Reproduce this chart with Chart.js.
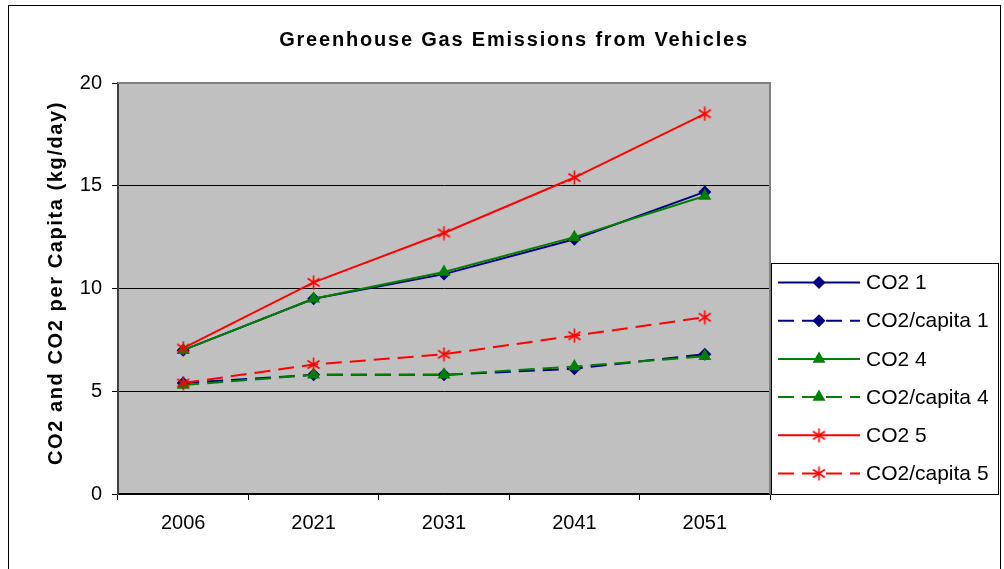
<!DOCTYPE html>
<html>
<head>
<meta charset="utf-8">
<script src="https://cdn.jsdelivr.net/npm/chart.js@4"></script>
<style>
  html, body { margin: 0; padding: 0; background: #fff; }
  #wrap { position: relative; width: 1004px; height: 569px; }
</style>
</head>
<body>
<div id="wrap"><canvas id="chart" width="1004" height="569"></canvas></div>
<script>
// Data
const years = ['2006', '2021', '2031', '2041', '2051'];
const co2_1 = [7.0, 9.5, 10.7, 12.4, 14.7];
const co2Capita_1 = [5.4, 5.8, 5.8, 6.1, 6.8];
const co2_4 = [7.0, 9.5, 10.8, 12.5, 14.5];
const co2Capita_4 = [5.3, 5.8, 5.8, 6.2, 6.7];
const co2_5 = [7.1, 10.3, 12.7, 15.4, 18.5];
const co2Capita_5 = [5.4, 6.3, 6.8, 7.7, 8.6];
const yTicks = [0, 5, 10, 15, 20];

const FONT = "'Liberation Sans', Arial, sans-serif";
const NAVY = '#000080';
const GREEN = '#008000';
const RED = '#FF0000';
const DASH = [16, 8];

// Asterisk marker (vertical line + X), like the Excel star marker
function makeStar(color) {
    const c = document.createElement('canvas');
    c.width = 15;
    c.height = 15;
    const g = c.getContext('2d');
    g.strokeStyle = color;
    g.lineWidth = 1.6;
    g.beginPath();
    g.moveTo(7.5, 0.5); g.lineTo(7.5, 14.5);
    g.moveTo(1.5, 3.5); g.lineTo(13.5, 11.5);
    g.moveTo(1.5, 11.5); g.lineTo(13.5, 3.5);
    g.stroke();
    return c;
}
const starImg = makeStar(RED);

function series(label, data, color, style, dashed, order) {
    return {
        label: label,
        data: data,
        borderColor: color,
        backgroundColor: color,
        borderWidth: 2,
        borderDash: dashed ? DASH : [],
        pointStyle: style === 'star' ? starImg : style,
        pointRadius: style === 'triangle' ? 7.5 : 6.5,
        pointBorderWidth: 0,
        pointBackgroundColor: color,
        pointBorderColor: color,
        tension: 0,
        fill: false,
        order: order,
        _marker: style,
        _dashed: dashed
    };
}

const datasets = [
    series('CO2 1', co2_1, NAVY, 'rectRot', false, 6),
    series('CO2/capita 1', co2Capita_1, NAVY, 'rectRot', true, 5),
    series('CO2 4', co2_4, GREEN, 'triangle', false, 4),
    series('CO2/capita 4', co2Capita_4, GREEN, 'triangle', true, 3),
    series('CO2 5', co2_5, RED, 'star', false, 2),
    series('CO2/capita 5', co2Capita_5, RED, 'star', true, 1)
];

// Grey plot area, outer frame, title and axis title
const framePlugin = {
    id: 'frame',
    beforeDraw(chart) {
        const { ctx, chartArea: a } = chart;
        ctx.save();
        ctx.fillStyle = '#C0C0C0';
        ctx.fillRect(a.left, a.top, a.right - a.left, a.bottom - a.top);
        // outer chart border
        ctx.strokeStyle = '#000';
        ctx.lineWidth = 1;
        ctx.strokeRect(8.5, 5.5, 992, 600);
        ctx.restore();
    },
    afterDraw(chart) {
        const { ctx, chartArea: a } = chart;
        ctx.save();
        // top and right border of plot area
        ctx.strokeStyle = '#808080';
        ctx.lineWidth = 2;
        ctx.beginPath();
        ctx.moveTo(a.left, a.top);
        ctx.lineTo(a.right, a.top);
        ctx.lineTo(a.right, a.bottom);
        ctx.stroke();
        // title
        ctx.fillStyle = '#000';
        ctx.font = 'bold 20px ' + FONT;
        ctx.letterSpacing = '1.8px';
        ctx.textAlign = 'center';
        ctx.textBaseline = 'middle';
        ctx.fillText('Greenhouse Gas Emissions from Vehicles', 514, 40);
        // y axis title
        ctx.translate(56, 283);
        ctx.rotate(-Math.PI / 2);
        ctx.letterSpacing = '1.6px';
        ctx.fillText('CO2 and CO2 per Capita (kg/day)', 0, 0);
        ctx.restore();
    }
};

// Legend box on the right, drawn from the dataset styles
const legendPlugin = {
    id: 'sideLegend',
    afterDraw(chart) {
        const ctx = chart.ctx;
        const box = { x: 771.5, y: 263.5, w: 227, h: 231 };
        ctx.save();
        ctx.fillStyle = '#fff';
        ctx.fillRect(box.x, box.y, box.w, box.h);
        ctx.strokeStyle = '#000';
        ctx.lineWidth = 1;
        ctx.strokeRect(box.x, box.y, box.w, box.h);

        chart.data.datasets.forEach((ds, i) => {
            const y = 282.5 + i * 38.2;
            ctx.strokeStyle = ds.borderColor;
            ctx.lineWidth = 2;
            ctx.setLineDash(ds._dashed ? DASH : []);
            ctx.beginPath();
            ctx.moveTo(778, y);
            ctx.lineTo(860, y);
            ctx.stroke();
            ctx.setLineDash([]);
            drawMarker(ctx, ds._marker, ds.borderColor, 819, y);
            ctx.fillStyle = '#000';
            ctx.font = '21px ' + FONT;
            ctx.textAlign = 'left';
            ctx.textBaseline = 'middle';
            ctx.fillText(ds.label, 866, y + 1);
        });
        ctx.restore();
    }
};

function drawMarker(ctx, style, color, x, y) {
    ctx.fillStyle = color;
    if (style === 'rectRot') {
        const r = 6.5;
        ctx.beginPath();
        ctx.moveTo(x, y - r);
        ctx.lineTo(x + r, y);
        ctx.lineTo(x, y + r);
        ctx.lineTo(x - r, y);
        ctx.closePath();
        ctx.fill();
    } else if (style === 'triangle') {
        const r = 7.5;
        ctx.beginPath();
        ctx.moveTo(x, y - r);
        ctx.lineTo(x + r * 0.866, y + r * 0.5);
        ctx.lineTo(x - r * 0.866, y + r * 0.5);
        ctx.closePath();
        ctx.fill();
    } else {
        ctx.drawImage(starImg, x - 7.5, y - 7.5);
    }
}

new Chart(document.getElementById('chart'), {
    type: 'line',
    data: { labels: years, datasets: datasets },
    options: {
        responsive: false,
        animation: false,
        layout: { padding: { left: 8, top: 83, right: 234, bottom: 0 } },
        plugins: {
            legend: { display: false },
            title: { display: false },
            tooltip: { enabled: false }
        },
        scales: {
            x: {
                offset: true,
                grid: {
                    offset: true,
                    drawOnChartArea: false,
                    tickLength: 6,
                    color: '#000',
                    tickColor: '#000'
                },
                border: { color: '#000', width: 1.5 },
                ticks: {
                    color: '#000',
                    padding: 11,
                    maxRotation: 0,
                    font: { family: FONT, size: 20 }
                },
                afterFit(scale) { scale.height = 75; }
            },
            y: {
                min: 0,
                max: 20,
                afterBuildTicks(scale) {
                    scale.ticks = yTicks.map(v => ({ value: v }));
                },
                grid: {
                    color: ctx => (ctx.tick && ctx.tick.value === 20) ? '#808080' : '#000',
                    tickColor: '#000',
                    tickLength: 6,
                    lineWidth: 1
                },
                border: { color: '#404040', width: 2 },
                ticks: {
                    color: '#000',
                    padding: 10,
                    font: { family: FONT, size: 20 }
                },
                afterFit(scale) { scale.width = 110; }
            }
        }
    },
    plugins: [framePlugin, legendPlugin]
});
</script>
</body>
</html>
